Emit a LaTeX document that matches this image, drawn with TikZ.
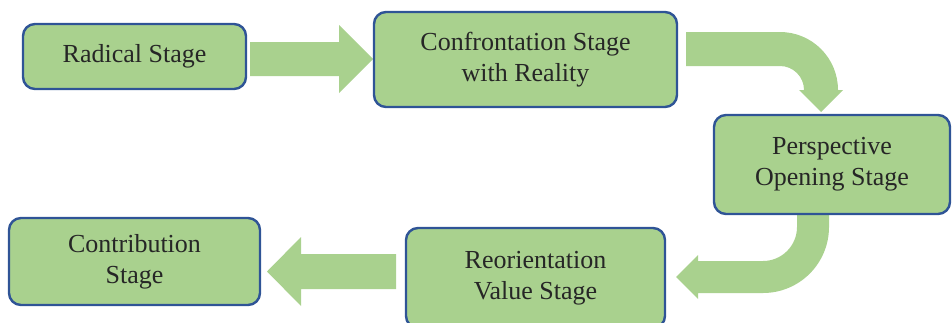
\documentclass[tikz,border=0pt]{standalone}
\usepackage{fontspec}
\setmainfont{Liberation Serif}
\definecolor{boxgreen}{RGB}{169,209,142}
\definecolor{boxblue}{RGB}{47,84,150}
\definecolor{txt}{RGB}{38,38,38}
\begin{document}
\begin{tikzpicture}[x=1pt,y=-1pt,
  stagebox/.style={draw=boxblue,fill=boxgreen,line width=2.4pt,rounded corners=12pt,
    rectangle,align=center,text=txt,inner sep=0pt,
    font=\fontsize{26}{31}\selectfont},
  blockarrow/.style={fill=boxgreen,draw=none}]
\useasboundingbox (0,0) rectangle (952,322);
% block arrows
\fill[blockarrow] (250,42) -- (339,42) -- (339,25) -- (373,59) -- (339,93) -- (339,76) -- (250,76) -- cycle;
\fill[blockarrow] (686,32) -- (780,32) arc[start angle=-90,end angle=0,radius=58] -- (843,90) -- (821,112) -- (799,90) -- (804,90) arc[start angle=0,end angle=-90,radius=24] -- (686,66) -- cycle;
\fill[blockarrow] (829,212) -- (829,227) arc[start angle=0,end angle=90,radius=66] -- (698,293) -- (698,299) -- (676,277) -- (698,255) -- (698,261) -- (763,261) arc[start angle=90,end angle=0,radius=34] -- (797,212) -- cycle;
\fill[blockarrow] (396,254) -- (301,254) -- (301,237) -- (267,271.5) -- (301,306) -- (301,289) -- (396,289) -- cycle;
% stages
\node[stagebox,minimum width=223pt,minimum height=65pt] (rad) at (134.5,56.5) {Radical Stage};
\node[stagebox,minimum width=303pt,minimum height=95pt] (conf) at (525.5,59.5) {Confrontation Stage\\with Reality};
\node[stagebox,minimum width=236pt,minimum height=99pt] (persp) at (832,164.5) {Perspective\\Opening Stage};
\node[stagebox,minimum width=251pt,minimum height=87pt] (contr) at (134.5,261.5) {Contribution\\Stage};
\node[stagebox,minimum width=259pt,minimum height=100pt] (reor) at (535.5,278) {Reorientation\\Value Stage};
\end{tikzpicture}
\end{document}
